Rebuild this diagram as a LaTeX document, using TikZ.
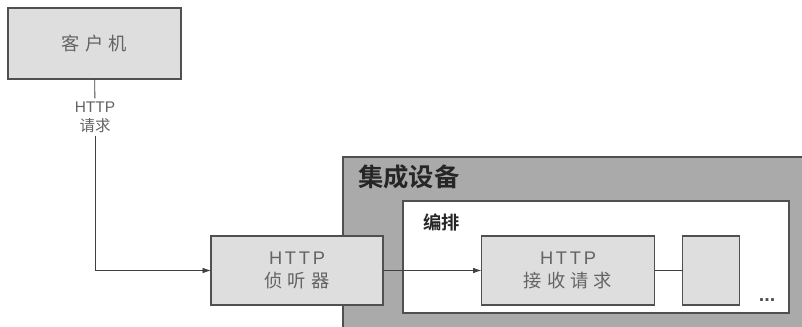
\documentclass[tikz,border=0pt]{standalone}
\usepackage{fontspec}
\setmainfont{Liberation Sans}
\newfontfamily\cjk{Noto Sans CJK SC}[BoldFont={Noto Sans CJK SC Bold}]
\newfontfamily\boxlat{Liberation Sans}[LetterSpace=15]
\newfontfamily\boxcjk{Noto Sans CJK SC}[LetterSpace=28]
\usetikzlibrary{positioning,arrows.meta}
\definecolor{boxfill}{RGB}{222,222,222}
\definecolor{devfill}{RGB}{170,170,170}
\definecolor{edge}{RGB}{80,80,80}
\definecolor{boxtext}{RGB}{100,100,100}
\begin{document}
\begin{tikzpicture}[x=0.025cm,y=-0.025cm,
 box/.style={draw=edge,fill=boxfill,line width=0.9pt,text=boxtext,align=center,inner sep=0pt,outer sep=0pt,minimum height=1.725cm,font=\fontsize{13}{16}\selectfont},
 title/.style={anchor=west,inner sep=0pt,text=black!85,font=\cjk\bfseries},
 arr/.style={-{Latex[length=6pt,width=4pt]}},
 wire/.style={draw=edge!80!black,line width=0.6pt}]
 \useasboundingbox (0,0) rectangle (802,327);
 \node[fill=devfill,inner sep=0pt,outer sep=0pt,anchor=north west,minimum width=11.475cm,minimum height=4.25cm] (device) at (343,157) {};
 \draw[draw=edge,line width=0.9pt] (device.south west) |- (device.north east);
 \node[title,font=\cjk\bfseries\fontsize{18}{20}\selectfont] (devtitle) at (358,177) {集成设备};
 \node[draw=edge,fill=white,line width=0.9pt,inner sep=0pt,outer sep=0pt,anchor=north west,minimum width=9.65cm,minimum height=2.8cm] (orch) at (403,201) {};
 \node[title,font=\cjk\bfseries\fontsize{13}{15}\selectfont] (orchtitle) at (423,222) {编排};
 \node[box,minimum width=4.325cm,minimum height=1.775cm] (client) at (94.5,43.5) {\boxcjk 客户机};
 \node[align=center,text=boxtext,inner sep=2pt,font=\fontsize{11}{13.5}\selectfont] (req) at (95,117) {HTTP\\{\cjk 请求}};
 \node[box,minimum width=4.3cm] (listener) at (297,270.5) {{\boxlat HTTP}\\{\boxcjk 侦听器}};
 \node[box,minimum width=4.325cm] (receive) at (568,270.5) {{\boxlat HTTP}\\{\boxcjk 接收请求}};
 \node[box,minimum width=1.425cm,right=0.7cm of receive] (nextstep) {};
 \node[inner sep=0pt,text=edge,font=\bfseries\fontsize{14}{16}\selectfont] (dots) at (767,300) {...};
 \draw[wire] (client) -- (req);
 \draw[wire,arr] (req) |- (listener);
 \draw[wire,arr] (listener) -- (receive);
 \draw[wire] (receive) -- (nextstep);
\end{tikzpicture}
\end{document}
